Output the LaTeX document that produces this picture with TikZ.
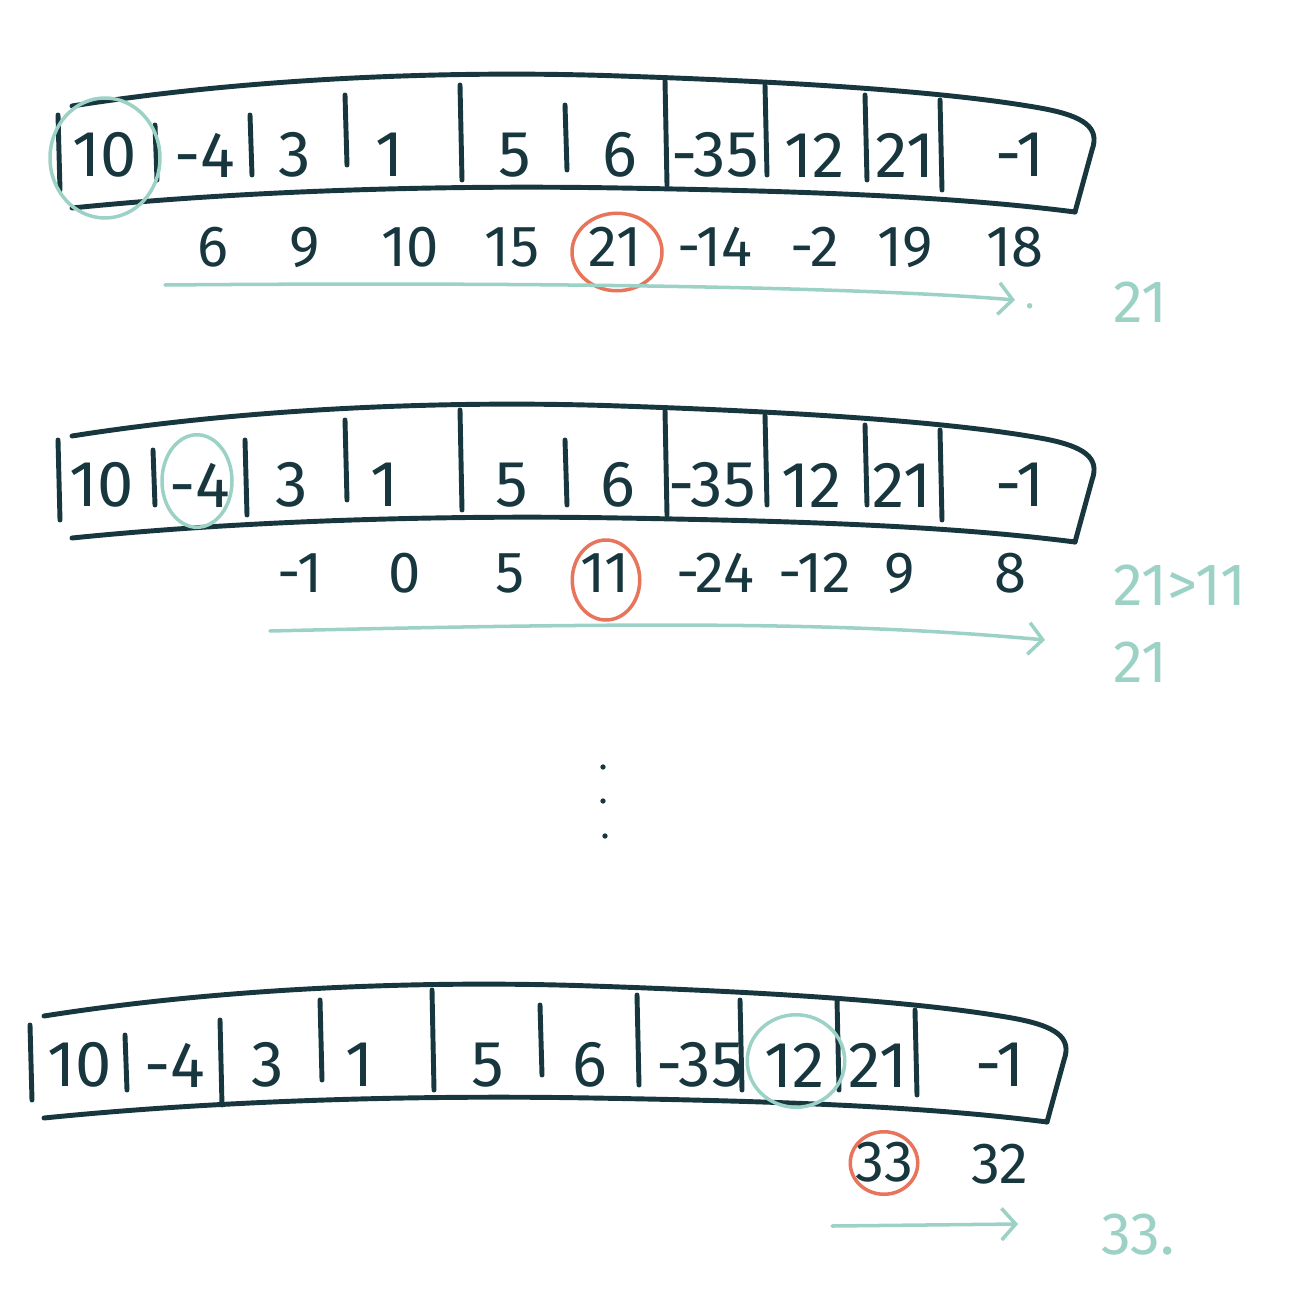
\documentclass[tikz,border=0pt]{standalone}
\usepackage{fontspec}
\setmainfont{Fira Sans}
\usetikzlibrary{arrows.meta,shapes.geometric}
\definecolor{ink}{HTML}{17363D}
\definecolor{tealc}{HTML}{9CD2C6}
\definecolor{redc}{HTML}{E8745C}
\newcommand\tapebox{%
 \draw[inkline] (72,106) .. controls (250,78) and (450,70) .. (620,76) .. controls (800,82) and (950,92) .. (1040,108) .. controls (1085,116) and (1100,128) .. (1092,150) -- (1075,212);
 \draw[inkline] (72,208) .. controls (250,190) and (450,185) .. (620,188) .. controls (800,191) and (950,196) .. (1075,212);
}
\begin{document}
\begin{tikzpicture}[x=0.02cm,y=-0.02cm,
 cellnum/.style={text=ink,font=\fontsize{37}{40}\selectfont,inner sep=0pt},
 sumnum/.style={text=ink,font=\fontsize{33}{36}\selectfont,inner sep=0pt},
 note/.style={text=tealc,font=\fontsize{34}{36}\selectfont,inner sep=0pt},
 smallnote/.style={text=tealc,font=\fontsize{22}{24}\selectfont,inner sep=0pt},
 inkline/.style={draw=ink,line width=2.8pt,line cap=round,line join=round},
 tealring/.style={ellipse,draw=tealc,line width=2pt,inner sep=0pt},
 redring/.style={ellipse,draw=redc,line width=2pt,inner sep=0pt},
 flow/.style={draw=tealc,line width=2pt,line cap=round,-{Straight Barb[length=8pt,width=18pt]}},
 dotmark/.style={circle,fill=ink,inner sep=0pt,minimum size=3pt}]
\useasboundingbox[fill=white] (0,0) rectangle (1296,1311);

% ---------- row 1 ----------
\tapebox
\foreach \x/\a/\b in {58/115/190,155/125/180,250/115/175,345/95/165,460/85/180,565/105/170,665/80/185,765/85/175,865/95/180,940/100/190}
  \draw[inkline] (\x,\a) -- (\x+2,\b);
\foreach \v/\x [count=\i] in {10/105,-4/205,3/295,1/390,5/515,6/620,-35/715,12/815,21/905,-1/1020}
  \node[cellnum] (a\i) at (\x,155) {\v};
\foreach \v/\x [count=\i] in {6/213,9/305,10/410,15/512,21/615,-14/715,-2/815,19/905,18/1015}
  \node[sumnum] (s\i) at (\x,247) {\v};
\node[tealring,minimum width=2.2cm,minimum height=2.4cm] (ta) at (105,158) {};
\node[redring,minimum width=1.8cm,minimum height=1.55cm] (ra) at (617,252) {};
\coordinate (f1s) at (165,285);
\coordinate (f1e) at (1015,300);
\draw[flow] (f1s) .. controls (500,282) and (850,286) .. (f1e);
\node[smallnote] (p1) at (1030,306) {.};
\node[note] (n1) at (1140,302) {21};

% ---------- row 2 ----------
\begin{scope}[shift={(0,330)}]
\tapebox
\end{scope}
\foreach \x/\a/\b in {58/440/520,153/450/505,245/440/515,345/420/500,460/410/510,565/440/505,665/410/515,765/415/505,865/425/505,940/430/520}
  \draw[inkline] (\x,\a) -- (\x+2,\b);
\foreach \v/\x [count=\i] in {10/102,-4/200,3/292,1/385,5/512,6/618,-35/712,12/812,21/902,-1/1020}
  \node[cellnum] (b\i) at (\x,485) {\v};
\foreach \v/\x [count=\i] in {-1/300,0/405,5/510,11/605,-24/715,-12/815,9/900,8/1010}
  \node[sumnum] (u\i) at (\x,573) {\v};
\node[tealring,minimum width=1.4cm,minimum height=1.85cm] (tb) at (197,481) {};
\node[redring,minimum width=1.35cm,minimum height=1.6cm] (rb) at (606,580) {};
\coordinate (f2s) at (270,631);
\coordinate (f2e) at (1045,640);
\draw[flow] (f2s) .. controls (650,622) and (850,622) .. (f2e);
\node[note] (n2a) at (1180,585) {21>11};
\node[note] (n2b) at (1140,662) {21};

% ---------- dots ----------
\node[dotmark] (d1) at (603,767) {};
\node[dotmark] (d2) at (603,801) {};
\node[dotmark] (d3) at (605,836) {};

% ---------- row 3 ----------
\begin{scope}[shift={(-28,910)}]
\tapebox
\end{scope}
\foreach \x/\a/\b in {30/1025/1100,125/1035/1090,220/1020/1105,320/1000/1080,432/990/1090,540/1005/1075,637/995/1085,740/1000/1090,837/1000/1090,915/1010/1095}
  \draw[inkline] (\x,\a) -- (\x+2,\b);
\foreach \v/\x [count=\i] in {10/80,-4/175,3/268,1/360,5/488,6/590,-35/700,12/795,21/878,-1/1000}
  \node[cellnum] (c\i) at (\x,1065) {\v};
\node[sumnum] (w1) at (884,1162) {33};
\node[sumnum] (w2) at (1000,1164) {32};
\node[tealring,minimum width=1.95cm,minimum height=1.85cm] (tc) at (796,1061) {};
\node[redring,minimum width=1.35cm,minimum height=1.25cm] (rc) at (884,1163) {};
\coordinate (f3s) at (832,1226);
\coordinate (f3e) at (1018,1224);
\draw[flow] (f3s) -- (f3e);
\node[note] (n3) at (1138,1235) {33.};
\end{tikzpicture}
\end{document}
